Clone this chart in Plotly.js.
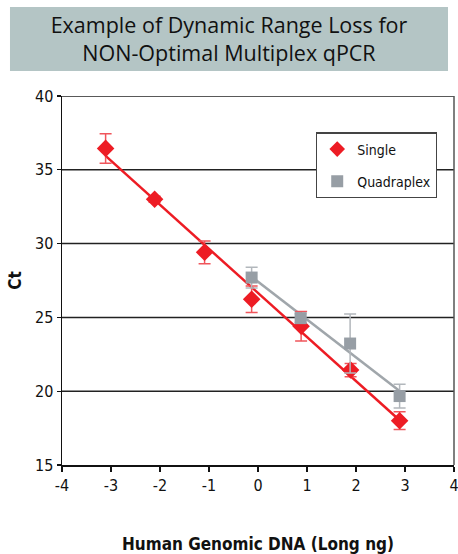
<!DOCTYPE html>
<html>
<head>
<meta charset="utf-8">
<script src="https://cdn.plot.ly/plotly-3.0.1.min.js"></script>
<style>
html,body{margin:0;padding:0;background:#fff;}
#chart{width:458px;height:554px;}
</style>
</head>
<body>
<div id="chart"></div>
<script>
// Data
const singleX = [-3.11, -2.11, -1.09, -0.13, 0.88, 1.89, 2.89];
const singleY = [36.45, 33.0, 29.41, 26.23, 24.4, 21.43, 18.0];
const singleErr = [1.0, 0.2, 0.77, 0.9, 1.0, 0.45, 0.6];

const quadX = [-0.13, 0.87, 1.88, 2.89];
const quadY = [27.7, 24.95, 23.23, 19.67];
const quadErr = [0.7, 0.3, 2.0, 0.8];

const xTicks = [-4, -3, -2, -1, 0, 1, 2, 3, 4];
const yTicks = [15, 20, 25, 30, 35, 40];

// Least-squares trend line through a series
function fitLine(xs, ys) {
  const n = xs.length;
  const mx = xs.reduce((a, b) => a + b, 0) / n;
  const my = ys.reduce((a, b) => a + b, 0) / n;
  let sxy = 0, sxx = 0;
  for (let i = 0; i < n; i++) { sxy += (xs[i] - mx) * (ys[i] - my); sxx += (xs[i] - mx) ** 2; }
  const m = sxy / sxx, b = my - m * mx;
  const x0 = Math.min(...xs), x1 = Math.max(...xs);
  return { x: [x0, x1], y: [m * x0 + b, m * x1 + b] };
}

const RED = '#ed1c24';
const GRAY = '#979ea5';
const tSingle = fitLine(singleX, singleY);
const tQuad = fitLine(quadX, quadY);

const data = [
  { x: tQuad.x, y: tQuad.y, mode: 'lines', line: { color: '#a0a6ab', width: 2.5 }, showlegend: false, hoverinfo: 'skip' },
  { x: tSingle.x, y: tSingle.y, mode: 'lines', line: { color: RED, width: 2.5 }, showlegend: false, hoverinfo: 'skip' },
  { x: singleX, y: singleY, name: 'Single', mode: 'markers', legendgroup: 'a',
    marker: { symbol: 'diamond', size: 13.5, color: RED },
    error_y: { type: 'data', array: singleErr, visible: true, color: '#f0555b', thickness: 1.5, width: 6 } },
  { x: quadX, y: quadY, name: 'Quadraplex', mode: 'markers', legendgroup: 'b',
    marker: { symbol: 'square', size: 12, color: GRAY },
    error_y: { type: 'data', array: quadErr, visible: true, color: '#b2b7bc', thickness: 1.5, width: 6 } }
];

const narrow = 'Liberation Sans Narrow, DejaVu Sans Condensed, sans-serif';
const tickFont = { family: narrow, size: 16, color: '#111' };

// Horizontal grid lines at each y tick (drawn across the plot area)
const gridShapes = yTicks.filter(v => v > 15).map(v => ({
  type: 'line', xref: 'paper', yref: 'y', x0: 0, x1: 1, y0: v, y1: v,
  line: { color: '#222', width: 1.5 }, layer: 'below'
}));

const layout = {
  width: 458, height: 554,
  margin: { l: 62, r: 4, t: 96, b: 89 },
  paper_bgcolor: '#fff', plot_bgcolor: '#fff',
  title: {
    text: 'Example of Dynamic Range Loss for<br>NON-Optimal Multiplex qPCR',
    font: { family: 'Open Sans, Noto Sans, sans-serif', size: 21.5, color: '#111' },
    xref: 'container', yref: 'container', x: 0.5, y: 1 - 33 / 554,
    xanchor: 'center', yanchor: 'middle'
  },
  xaxis: {
    range: [-4, 4], tickvals: xTicks, ticktext: xTicks.map(String),
    showgrid: false, zeroline: false, showline: true, linecolor: '#111', linewidth: 1.5,
    ticks: 'outside', ticklen: 5, tickwidth: 1.2, tickcolor: '#111', tickfont: tickFont,
    ticklabeloverflow: 'allow',
    title: { text: '<b>Human Genomic DNA (Long ng)</b>', standoff: 45,
      font: { family: narrow, size: 17, color: '#111' } },
    automargin: false, fixedrange: true
  },
  yaxis: {
    range: [15, 40], tickvals: yTicks, ticktext: yTicks.map(String),
    showgrid: false, zeroline: false,
    showline: true, linecolor: '#111', linewidth: 1.5,
    ticks: 'outside', ticklen: 4, tickwidth: 1.2, tickcolor: '#111', tickfont: tickFont,
    ticklabeloverflow: 'allow',
    title: { text: '<b>Ct</b>', standoff: 9,
      font: { family: narrow, size: 17, color: '#111' } },
    automargin: false, fixedrange: true
  },
  legend: {
    x: 0.648, y: 0.9016, xanchor: 'left', yanchor: 'top',
    bgcolor: '#fff', bordercolor: '#444', borderwidth: 1.2,
    font: { family: narrow, size: 14, color: '#111' },
    tracegroupgap: 11, itemsizing: 'constant'
  },
  shapes: [
    { type: 'rect', xref: 'paper', yref: 'paper', x0: -0.1327, x1: 0.9847, y0: 1.0678, y1: 1.2412,
      fillcolor: '#b4c5c5', line: { width: 0 }, layer: 'below' },
    ...gridShapes,
    { type: 'line', xref: 'paper', yref: 'paper', x0: 1, x1: 1, y0: 0, y1: 1,
      line: { color: '#555', width: 1.5 } }
  ],
  showlegend: true
};

Plotly.newPlot('chart', data, layout, { displayModeBar: false, staticPlot: true });
</script>
</body>
</html>
